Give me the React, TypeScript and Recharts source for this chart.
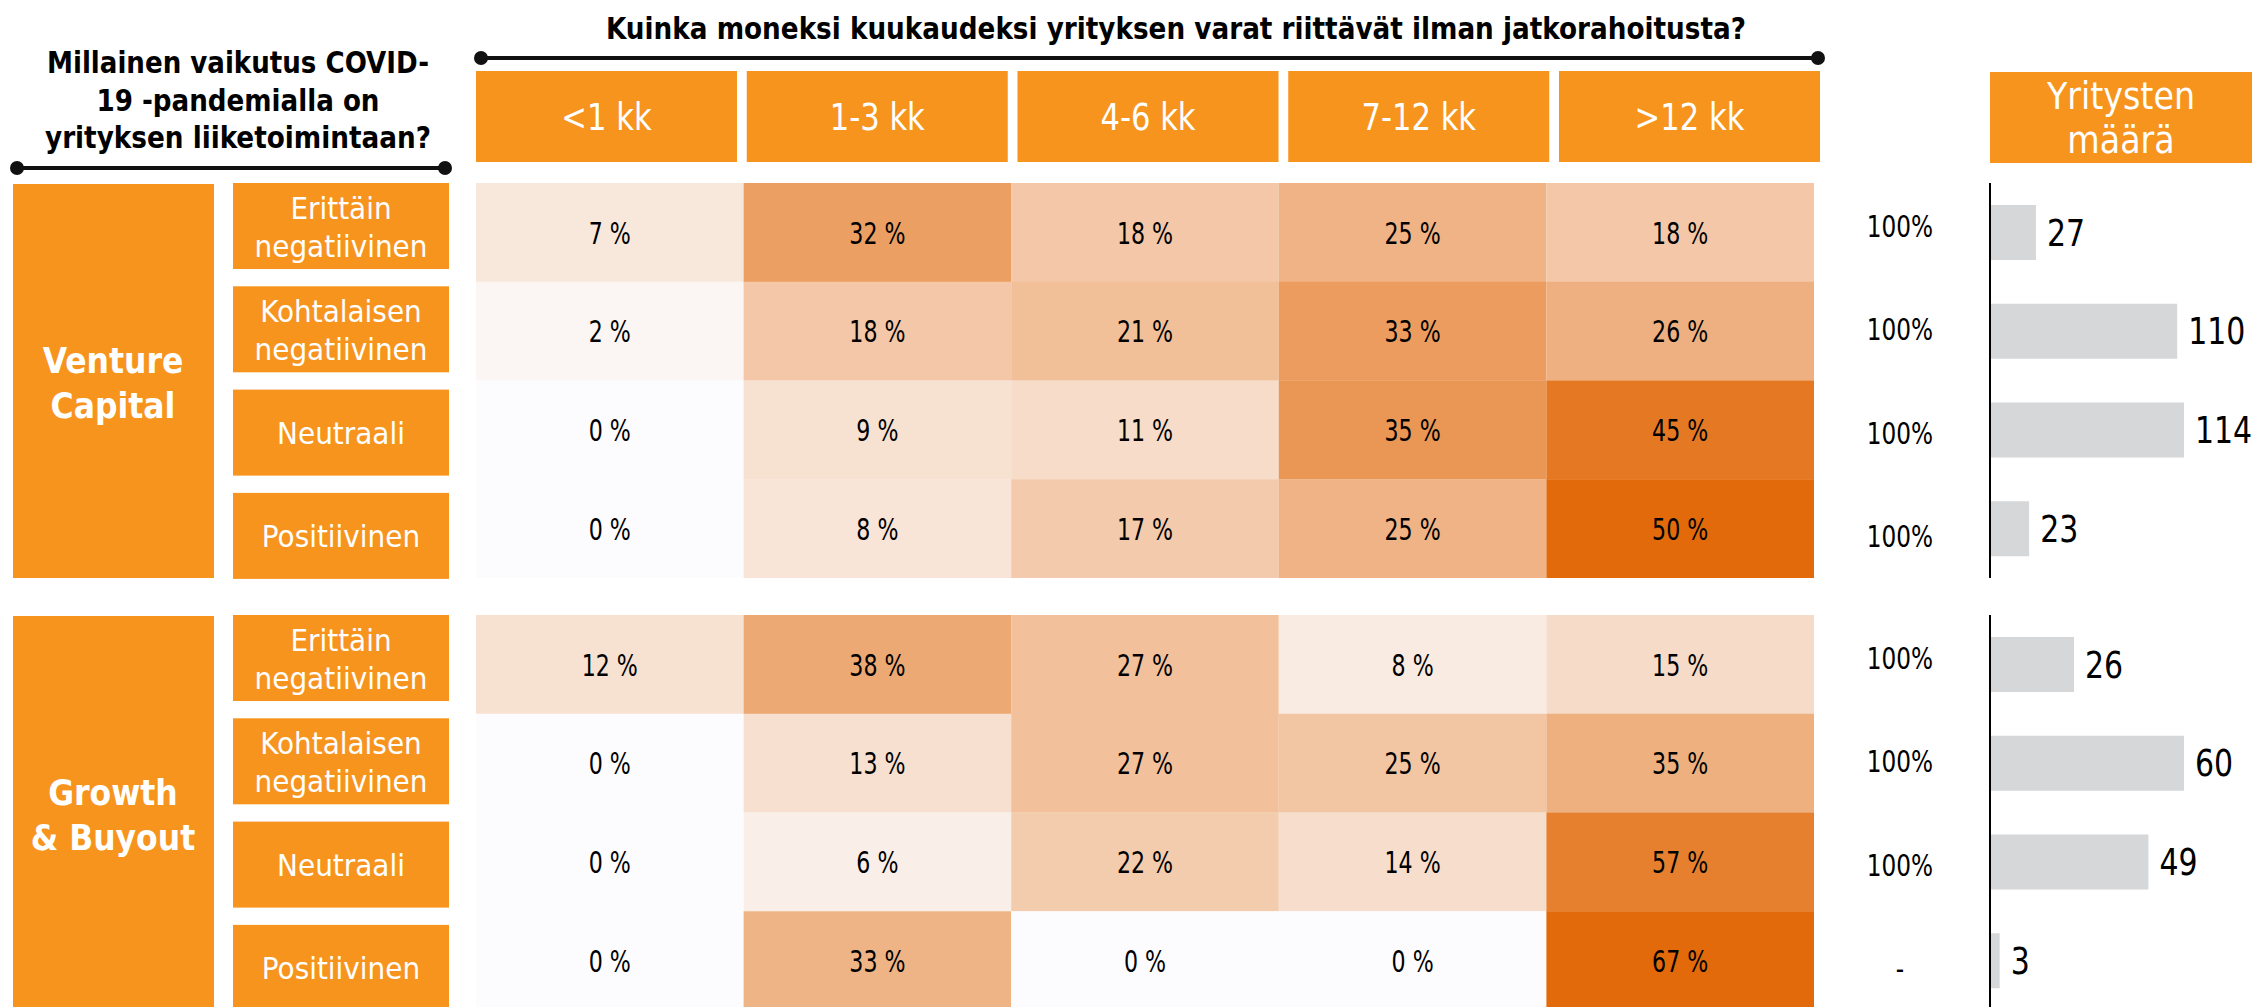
import React from "react";
import { BarChart, Bar, XAxis, YAxis, Cell, LabelList } from "recharts";

const durations = ["<1 kk", "1-3 kk", "4-6 kk", "7-12 kk", ">12 kk"];
const impacts = ["Erittäin negatiivinen", "Kohtalaisen negatiivinen", "Neutraali", "Positiivinen"];
const groups = ["Venture Capital", "Growth & Buyout"];

// osuudet (%) riveittäin, sarakkeet kuten durations
const vcErittain = [7, 32, 18, 25, 18];
const vcKohtalaisen = [2, 18, 21, 33, 26];
const vcNeutraali = [0, 9, 11, 35, 45];
const vcPositiivinen = [0, 8, 17, 25, 50];

const gbErittain = [12, 38, 27, 8, 15];
const gbKohtalaisen = [0, 13, 27, 25, 35];
const gbNeutraali = [0, 6, 22, 14, 57];
const gbPositiivinen = [0, 33, 0, 0, 67];

const vcCounts = [27, 110, 114, 23];
const gbCounts = [26, 60, 49, 3];
const vcTotals = ["100%", "100%", "100%", "100%"];
const gbTotals = ["100%", "100%", "100%", "-"];

const ORANGE = "#F7941E";
const COND = "'DejaVu Sans Condensed', 'DejaVu Sans', sans-serif";
const LIGHT = [252, 252, 254];
const DARK = [226, 106, 11];

const HM_X = 476;
const HM_W = 1338;
const HM_H = 395;
const GROUP_Y = [183, 615];
const BOX_PITCH = 103.3;
const BOX_H = 86;
const BAR_X = 1840;
const BAR_W = 420;

const heatColor = (v: number, max: number) => {
  const t = max ? v / max : 0;
  const c = LIGHT.map((l, k) => Math.round(l + (DARK[k] - l) * t));
  return `rgb(${c.join(",")})`;
};

const buildRows = (rows: number[][]) =>
  rows.map((vals, r) => {
    const o: any = { impact: impacts[r] };
    vals.forEach((v, i) => {
      o[`w${i}`] = 1;
      o[`p${i}`] = v;
    });
    return o;
  });

const renderPct = (props: any) => {
  const { x, y, width, height, value } = props;
  return (
    <g transform={`translate(${x + width / 2},${y + height / 2 + 11}) scale(0.82,1)`}>
      <text x={0} y={0} textAnchor="middle" fontSize={30} fontFamily={COND} fill="#000">
        {value} %
      </text>
    </g>
  );
};

const renderCount = (props: any) => {
  const { x, y, width, height, value } = props;
  return (
    <g transform={`translate(${x + width + 11},${y + height / 2 + 13}) scale(0.9,1)`}>
      <text x={0} y={0} textAnchor="start" fontSize={37} fontFamily={COND} fill="#000">
        {value}
      </text>
    </g>
  );
};

function Heatmap({ rows }: { rows: number[][] }) {
  const data = buildRows(rows);
  const max = Math.max(...rows.flat());
  return (
    <BarChart
      width={HM_W}
      height={HM_H}
      data={data}
      layout="vertical"
      margin={{ top: 0, right: 0, bottom: 0, left: 0 }}
      barCategoryGap={0}
      barGap={0}
    >
      <XAxis type="number" domain={[0, durations.length]} hide />
      <YAxis type="category" dataKey="impact" hide />
      {durations.map((d, i) => (
        <Bar key={d} dataKey={`w${i}`} stackId="s" isAnimationActive={false}>
          {data.map((row, r) => (
            <Cell key={r} fill={heatColor(row[`p${i}`], max)} />
          ))}
          <LabelList dataKey={`p${i}`} content={renderPct} />
        </Bar>
      ))}
    </BarChart>
  );
}

function CountChart({ counts, totals }: { counts: number[]; totals: string[] }) {
  const data = impacts.map((k, i) => ({ impact: k, count: counts[i] }));
  const max = Math.max(...counts);
  const totalTick = (p: any) => {
    const idx = p.index ?? p.payload?.index ?? 0;
    // summat asettuvat rivilaatikoiden keskelle
    const cy = idx * BOX_PITCH + BOX_H / 2;
    return (
      <g transform={`translate(60,${cy + 11}) scale(0.86,1)`}>
        <text x={0} y={0} textAnchor="middle" fontSize={30} fontFamily={COND} fill="#000">
          {totals[idx]}
        </text>
      </g>
    );
  };
  return (
    <BarChart width={BAR_W} height={HM_H} data={data} layout="vertical" margin={{ top: 0, right: 76, bottom: 0, left: 0 }}>
      <XAxis type="number" domain={[0, max]} hide />
      <YAxis
        type="category"
        dataKey="impact"
        width={150}
        tickLine={false}
        axisLine={{ stroke: "#000", strokeWidth: 2 }}
        tick={totalTick}
      />
      <Bar dataKey="count" barSize={55} fill="#D6D7D9" isAnimationActive={false}>
        <LabelList dataKey="count" content={renderCount} />
      </Bar>
    </BarChart>
  );
}

const splitFirst = (s: string) => {
  const k = s.indexOf(" ");
  return k < 0 ? [s] : [s.slice(0, k), s.slice(k + 1)];
};

function Decorations() {
  const headerLeft = (i: number) => HM_X + i * 270.75;
  return (
    <svg width={2260} height={1007} style={{ position: "absolute", left: 0, top: 0 }}>
      {/* otsikot */}
      <text x={1176} y={39} textAnchor="middle" fontSize={30} fontWeight="bold" fontFamily={COND} fill="#000" textLength={1140} lengthAdjust="spacingAndGlyphs">
        Kuinka moneksi kuukaudeksi yrityksen varat riittävät ilman jatkorahoitusta?
      </text>
      <line x1={481} x2={1818} y1={58} y2={58} stroke="#111" strokeWidth={4} />
      <circle cx={481} cy={58} r={7} fill="#111" />
      <circle cx={1818} cy={58} r={7} fill="#111" />

      <g fontSize={30} fontWeight="bold" fontFamily={COND} fill="#000" textAnchor="middle">
        <text x={238} y={73} textLength={382} lengthAdjust="spacingAndGlyphs">Millainen vaikutus COVID-</text>
        <text x={238} y={111} textLength={283} lengthAdjust="spacingAndGlyphs">19 -pandemialla on</text>
        <text x={238} y={148} textLength={386} lengthAdjust="spacingAndGlyphs">yrityksen liiketoimintaan?</text>
      </g>
      <line x1={17} x2={445} y1={168} y2={168} stroke="#111" strokeWidth={4} />
      <circle cx={17} cy={168} r={7} fill="#111" />
      <circle cx={445} cy={168} r={7} fill="#111" />

      {/* sarakeotsikot */}
      {durations.map((d, i) => (
        <g key={d}>
          <rect x={headerLeft(i)} y={71} width={261} height={91} fill={ORANGE} />
          <g transform={`translate(${headerLeft(i) + 130.5},130) scale(0.92,1)`}>
            <text x={0} y={0} textAnchor="middle" fontSize={37} fontFamily={COND} fill="#fff">
              {d}
            </text>
          </g>
        </g>
      ))}
      <rect x={1990} y={72} width={262} height={91} fill={ORANGE} />
      <text x={2121} y={109} textAnchor="middle" fontSize={37} fontFamily={COND} fill="#fff">Yritysten</text>
      <text x={2121} y={153} textAnchor="middle" fontSize={37} fontFamily={COND} fill="#fff">määrä</text>

      {/* ryhmät ja rivit */}
      {groups.map((g, gi) => {
        const top = GROUP_Y[gi] + 1;
        const lines = splitFirst(g);
        return (
          <g key={g}>
            <rect x={13} y={top} width={201} height={394} fill={ORANGE} />
            {lines.map((l, li) => (
              <text key={l} x={113} y={top + 189 + li * 45} textAnchor="middle" fontSize={35} fontWeight="bold" fontFamily={COND} fill="#fff">
                {l}
              </text>
            ))}
            {impacts.map((imp, r) => {
              const by = GROUP_Y[gi] + r * BOX_PITCH;
              const cy = by + BOX_H / 2;
              const parts = imp.includes("negatiivinen") ? splitFirst(imp) : [imp];
              return (
                <g key={imp}>
                  <rect x={233} y={by} width={216} height={BOX_H} fill={ORANGE} />
                  {parts.map((p, pi) => (
                    <text
                      key={p}
                      x={341}
                      y={parts.length === 1 ? cy + 11 : cy - 7 + pi * 38}
                      textAnchor="middle"
                      fontSize={31}
                      fontFamily={COND}
                      fill="#fff"
                    >
                      {p}
                    </text>
                  ))}
                </g>
              );
            })}
          </g>
        );
      })}
    </svg>
  );
}

export default function App() {
  const vcRows = [vcErittain, vcKohtalaisen, vcNeutraali, vcPositiivinen];
  const gbRows = [gbErittain, gbKohtalaisen, gbNeutraali, gbPositiivinen];
  return (
    <div style={{ position: "absolute", left: 0, top: 0, width: 2260, height: 1007, overflow: "hidden", background: "#fff" }}>
      <Decorations />
      <div style={{ position: "absolute", left: HM_X, top: GROUP_Y[0] }}>
        <Heatmap rows={vcRows} />
      </div>
      <div style={{ position: "absolute", left: HM_X, top: GROUP_Y[1] }}>
        <Heatmap rows={gbRows} />
      </div>
      <div style={{ position: "absolute", left: BAR_X, top: GROUP_Y[0] }}>
        <CountChart counts={vcCounts} totals={vcTotals} />
      </div>
      <div style={{ position: "absolute", left: BAR_X, top: GROUP_Y[1] }}>
        <CountChart counts={gbCounts} totals={gbTotals} />
      </div>
    </div>
  );
}
